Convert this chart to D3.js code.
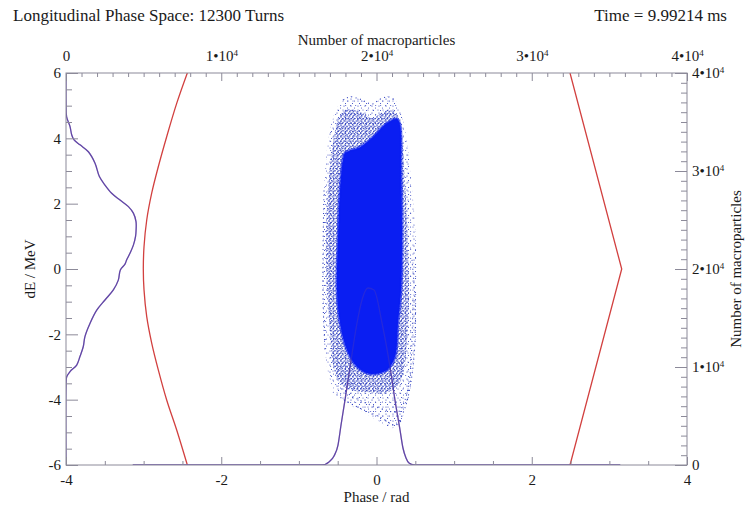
<!DOCTYPE html>
<html>
<head>
<meta charset="utf-8">
<script src="https://cdn.jsdelivr.net/npm/d3@7"></script>
<style>
  body { margin: 0; background: #fff; }
  svg, svg text { font-family: "Liberation Serif", "DejaVu Serif", serif !important; }
  text { fill: #1a1a1a; }
</style>
</head>
<body>
<div id="chart"></div>
<script>
const title = 'Longitudinal Phase Space: 12300 Turns';
const timeLabel = 'Time = 9.99214 ms';
const phaseTicks = [-4, -2, 0, 2, 4];
const dETicks = [-6, -4, -2, 0, 2, 4, 6];
const countTicks = [0, 1e4, 2e4, 3e4, 4e4];

// separatrix (red), [phase, dE]
const sepLeft = [
  [-2.437, 6], [-2.574, 5.07], [-2.703, 4.05], [-2.811, 3.13], [-2.896, 2.32],
  [-2.960, 1.5], [-2.995, 0.68], [-3.004, 0], [-2.995, -0.64], [-2.960, -1.46],
  [-2.896, -2.27], [-2.811, -3.09], [-2.703, -4.01], [-2.574, -4.93], [-2.437, -6]
];
const sepRight = [[2.493, 6], [3.159, 0], [2.493, -6]];

// projection on phase axis, [phase, count]
const phaseProfile = [
  [-3.14, 0], [-0.702, 0], [-0.612, 310], [-0.547, 920], [-0.496, 2040], [-0.457, 4080],
  [-0.406, 6630], [-0.341, 10000], [-0.251, 14490], [-0.187, 16840], [-0.110, 18060],
  [-0.032, 17860], [0.071, 14490], [0.174, 10000], [0.238, 6630], [0.303, 3570],
  [0.341, 1735], [0.380, 710], [0.419, 200], [0.483, 0], [3.14, 0]
];

// projection on dE axis, [count, dE]
const dEProfile = [
  [0, -6], [0, -3.6], [45, -3.3], [260, -3.14], [690, -2.94], [900, -2.68], [1110, -2.38],
  [1220, -2.07], [1550, -1.66], [1980, -1.26], [2510, -0.95], [3050, -0.64], [3370, -0.34],
  [3500, -0.03], [3800, 0.15], [3910, 0.28], [4120, 0.48], [4340, 0.73], [4480, 1.0],
  [4510, 1.15], [4510, 1.45], [4340, 1.71], [4020, 1.91], [3480, 2.11], [2940, 2.32],
  [2510, 2.57], [2150, 2.83], [1870, 3.24], [1440, 3.59], [900, 3.80], [520, 3.95],
  [370, 4.10], [260, 4.36], [40, 4.66], [0, 5.07], [0, 6]
];

// macroparticle distribution outlines, [phase, dE]
const haloOutline = [
  [-0.432, 5.17], [-0.341, 5.27], [-0.213, 5.20], [-0.058, 5.05], [0.045, 5.20], [0.148, 5.27],
  [0.238, 5.17], [0.303, 4.87], [0.380, 4.10], [0.432, 3.03], [0.483, 1.81], [0.509, 0.58],
  [0.522, -0.64], [0.509, -1.87], [0.470, -3.09], [0.406, -4.01], [0.303, -4.68], [0.213, -4.87],
  [0.045, -4.68], [-0.148, -4.41], [-0.341, -4.16], [-0.496, -3.86], [-0.599, -3.40],
  [-0.663, -2.48], [-0.689, -0.95], [-0.689, 0.58], [-0.676, 2.11], [-0.651, 3.34],
  [-0.599, 4.26], [-0.522, 4.87]
];
const speckleOutline = [
  [-0.406, 4.87], [-0.213, 4.81], [-0.058, 4.62], [0.110, 4.84], [0.238, 4.81], [0.303, 4.50],
  [0.341, 3.64], [0.380, 2.11], [0.406, 0.58], [0.419, -0.95], [0.393, -2.17], [0.354, -3.09],
  [0.277, -3.55], [0.110, -3.80], [-0.084, -3.77], [-0.316, -3.71], [-0.470, -3.49],
  [-0.560, -2.94], [-0.599, -1.87], [-0.638, -0.64], [-0.651, 0.89], [-0.625, 2.42],
  [-0.573, 3.64], [-0.496, 4.56]
];
const coreOutline = [
  [-0.406, 3.55], [-0.213, 3.73], [-0.045, 4.04], [0.135, 4.47], [0.264, 4.59], [0.303, 4.41],
  [0.316, 3.03], [0.328, 1.19], [0.316, -0.64], [0.277, -1.65], [0.238, -2.69], [0.135, -3.09],
  [-0.084, -3.21], [-0.251, -2.99], [-0.380, -2.48], [-0.470, -1.65], [-0.509, -0.64],
  [-0.496, 0.89], [-0.470, 2.42], [-0.432, 3.34]
];
const filaments = [
  [[-0.560, -3.77], [-0.393, -4.04], [-0.187, -4.29], [0.045, -4.53], [0.238, -4.78], [0.316, -4.65]],
  [[-0.496, -3.58], [-0.316, -3.89], [-0.110, -4.13], [0.122, -4.32], [0.277, -4.38], [0.367, -4.01],
   [0.432, -3.24], [0.457, -2.17], [0.470, -0.95]],
  [[0.457, 0.28], [0.496, -0.95], [0.496, -2.17], [0.457, -3.24], [0.380, -4.16], [0.277, -4.75]],
  [[-0.432, 5.17], [-0.341, 5.27], [-0.213, 5.20], [-0.058, 5.05], [0.045, 5.20], [0.148, 5.27], [0.238, 5.17]],
  [[-0.676, 2.4], [-0.689, 0.58], [-0.689, -0.95], [-0.663, -2.48]]
];

const W = 745, H = 507;
const plot = { left: 66, right: 687, top: 73, bottom: 465 };
const serif = '"Liberation Serif", "DejaVu Serif", serif';
const axisColor = '#8c8a99';
const sepColor = '#d2403f';
const profColor = '#6247a6';
const coreColor = '#0a1ef2';
const haloColor = '#2f40c0';

const svg = d3.select('#chart').append('svg')
  .attr('width', W).attr('height', H)
  .attr('font-family', serif);

const x = d3.scaleLinear([-4, 4], [plot.left, plot.right]);
const y = d3.scaleLinear([-6, 6], [plot.bottom, plot.top]);
const xc = d3.scaleLinear([0, 4e4], [plot.left, plot.right]);
const yc = d3.scaleLinear([0, 4e4], [plot.bottom, plot.top]);

const defs = svg.append('defs');
defs.append('clipPath').attr('id', 'plotclip').append('rect')
  .attr('x', plot.left).attr('y', plot.top)
  .attr('width', plot.right - plot.left).attr('height', plot.bottom - plot.top);

function dotPattern(id, w, h, dots) {
  const p = defs.append('pattern').attr('id', id)
    .attr('patternUnits', 'userSpaceOnUse').attr('width', w).attr('height', h);
  p.selectAll('circle').data(dots).join('circle')
    .attr('cx', d => d[0]).attr('cy', d => d[1]).attr('r', d => d[2])
    .attr('fill', haloColor);
}
dotPattern('sparseA', 7, 7, [[1, 1, 0.6], [4.5, 3, 0.5], [2.5, 5.5, 0.55]]);
dotPattern('sparseB', 5, 9, [[3, 2, 0.5], [0.7, 6.5, 0.5]]);
dotPattern('denseA', 4, 4, [[1, 1, 0.75], [3, 2.5, 0.65], [1.8, 3.4, 0.55]]);
dotPattern('denseB', 3, 5, [[2, 1, 0.6], [0.6, 3.6, 0.6]]);

const g = svg.append('g').attr('clip-path', 'url(#plotclip)');

// separatrix
g.append('path')
  .attr('d', d3.line().x(d => x(d[0])).y(d => y(d[1])).curve(d3.curveCatmullRom)(sepLeft))
  .attr('fill', 'none').attr('stroke', sepColor).attr('stroke-width', 1.3);
g.append('path')
  .attr('d', d3.line().x(d => x(d[0])).y(d => y(d[1]))(sepRight))
  .attr('fill', 'none').attr('stroke', sepColor).attr('stroke-width', 1.3);

// profiles
const phaseLine = d3.line().x(d => x(d[0])).y(d => yc(d[1])).curve(d3.curveMonotoneX);
const dELine = d3.line().x(d => xc(d[0])).y(d => y(d[1])).curve(d3.curveCatmullRom);
function drawProfiles(layer, opacity) {
  layer.append('path').attr('d', phaseLine(phaseProfile))
    .attr('fill', 'none').attr('stroke', profColor).attr('stroke-width', 1.3).attr('opacity', opacity);
  layer.append('path').attr('d', dELine(dEProfile))
    .attr('fill', 'none').attr('stroke', profColor).attr('stroke-width', 1.3).attr('opacity', opacity);
}
drawProfiles(g, 1);

// macroparticles
const blob = d3.line().x(d => x(d[0])).y(d => y(d[1])).curve(d3.curveCatmullRomClosed);
const cloud = g.append('g');
cloud.append('path').attr('d', blob(haloOutline)).attr('fill', 'url(#sparseA)');
cloud.append('path').attr('d', blob(haloOutline)).attr('fill', 'url(#sparseB)');
cloud.append('path').attr('d', blob(speckleOutline)).attr('fill', 'url(#denseA)');
cloud.append('path').attr('d', blob(speckleOutline)).attr('fill', 'url(#denseB)');
cloud.selectAll('path.fil').data(filaments).join('path').attr('class', 'fil')
  .attr('d', d3.line().x(d => x(d[0])).y(d => y(d[1])).curve(d3.curveCatmullRom))
  .attr('fill', 'none').attr('stroke', haloColor).attr('stroke-width', 1.1)
  .attr('stroke-dasharray', '1 3.5');
cloud.append('path').attr('d', blob(coreOutline))
  .attr('fill', coreColor).attr('stroke', coreColor).attr('stroke-width', 3).attr('stroke-opacity', 0.6);

// profile showing faintly through the particles
drawProfiles(g, 0.3);

// axes
const intFmt = d => String(d);   // plain hyphen minus, as in the original
function styleAxis(sel) {
  sel.attr('font-family', serif).attr('font-size', 15);
  sel.select('.domain').remove();
  sel.selectAll('line').attr('stroke', axisColor);
  sel.selectAll('text').attr('fill', '#1a1a1a');
}
const minor = (lo, hi, step, majors) => d3.range(lo, hi + step / 2, step)
  .filter(v => !majors.some(m => Math.abs(m - v) < 1e-9));

svg.append('g').attr('transform', `translate(0,${plot.bottom})`)
  .call(d3.axisBottom(x).tickValues(phaseTicks).tickSize(-8).tickPadding(9).tickFormat(intFmt))
  .call(styleAxis);
svg.append('g').attr('transform', `translate(0,${plot.bottom})`)
  .call(d3.axisBottom(x).tickValues(minor(-4, 4, 0.5, phaseTicks)).tickSize(-4).tickFormat(''))
  .call(styleAxis);

svg.append('g').attr('transform', `translate(${plot.left},0)`)
  .call(d3.axisLeft(y).tickValues(dETicks).tickSize(-12).tickPadding(5).tickFormat(intFmt))
  .call(styleAxis);
svg.append('g').attr('transform', `translate(${plot.left},0)`)
  .call(d3.axisLeft(y).tickValues(minor(-6, 6, 0.5, dETicks)).tickSize(-6).tickFormat(''))
  .call(styleAxis);

function powerLabels(sel) {
  sel.selectAll('.tick text').each(function (d) {
    const t = d3.select(this).text('');
    if (d === 0) { t.text('0'); return; }
    t.append('tspan').text(`${d / 1e4}\u202210`);
    t.append('tspan').text('4').attr('dy', '-0.55em').attr('font-size', 9);
  });
}

svg.append('g').attr('transform', `translate(0,${plot.top})`)
  .call(d3.axisTop(xc).tickValues(countTicks).tickSize(-8).tickPadding(12))
  .call(styleAxis).call(powerLabels);
svg.append('g').attr('transform', `translate(0,${plot.top})`)
  .call(d3.axisTop(xc).tickValues(minor(0, 4e4, 1000, countTicks)).tickSize(-4).tickFormat(''))
  .call(styleAxis);

svg.append('g').attr('transform', `translate(${plot.right},0)`)
  .call(d3.axisRight(yc).tickValues(countTicks).tickSize(-12).tickPadding(5))
  .call(styleAxis).call(powerLabels);
svg.append('g').attr('transform', `translate(${plot.right},0)`)
  .call(d3.axisRight(yc).tickValues(minor(0, 4e4, 1000, countTicks)).tickSize(-6).tickFormat(''))
  .call(styleAxis);

svg.append('rect')
  .attr('x', plot.left).attr('y', plot.top)
  .attr('width', plot.right - plot.left).attr('height', plot.bottom - plot.top)
  .attr('fill', 'none').attr('stroke', axisColor).attr('stroke-width', 1);

// titles
const label = (sel) => sel.attr('font-family', serif).attr('fill', '#1a1a1a');
svg.append('text').attr('x', 13).attr('y', 21).attr('font-size', 17).call(label).text(title);
svg.append('text').attr('x', 727).attr('y', 21).attr('text-anchor', 'end')
  .attr('font-size', 17).call(label).text(timeLabel);
svg.append('text').attr('x', (plot.left + plot.right) / 2).attr('y', 45)
  .attr('text-anchor', 'middle').attr('font-size', 15).call(label).text('Number of macroparticles');
svg.append('text').attr('x', (plot.left + plot.right) / 2).attr('y', 502)
  .attr('text-anchor', 'middle').attr('font-size', 15).call(label).text('Phase / rad');
svg.append('text').attr('transform', `translate(35,${(plot.top + plot.bottom) / 2}) rotate(-90)`)
  .attr('text-anchor', 'middle').attr('font-size', 15).call(label).text('dE / MeV');
svg.append('text').attr('transform', `translate(741,${(plot.top + plot.bottom) / 2}) rotate(-90)`)
  .attr('text-anchor', 'middle').attr('font-size', 15).call(label).text('Number of macroparticles');
</script>
</body>
</html>
